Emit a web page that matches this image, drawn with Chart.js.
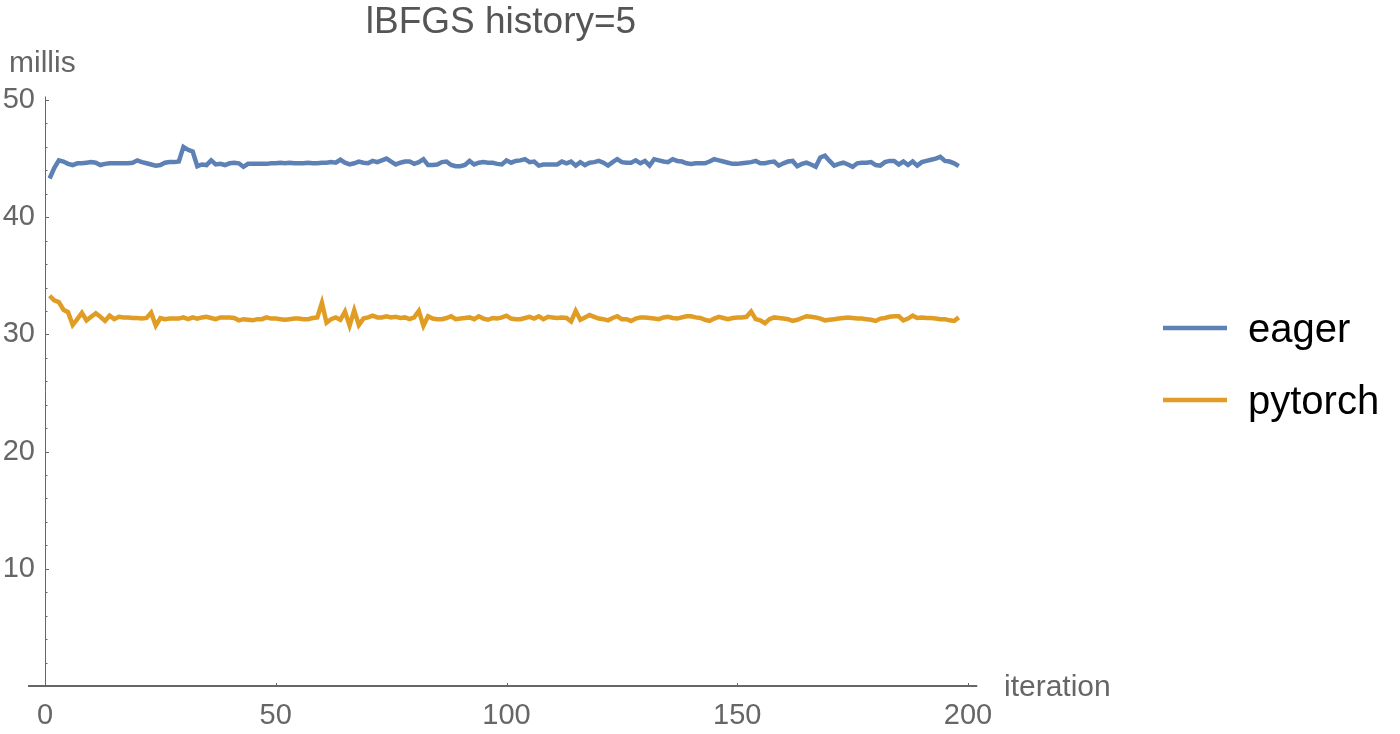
<!DOCTYPE html>
<html>
<head>
<meta charset="utf-8">
<title>lBFGS history=5</title>
<script src="https://cdn.jsdelivr.net/npm/chart.js@4.4.1/dist/chart.umd.min.js"></script>
<style>
  html, body { margin: 0; padding: 0; background: #fff; }
  #chart { display: block; }
</style>
</head>
<body>
<canvas id="chart" width="1400" height="734"></canvas>
<script>
const titleText = 'lBFGS history=5';
const seriesNames = ['eager', 'pytorch'];
const seriesColors = ['#5e81b5', '#e19c24'];
const xTicks = [0, 50, 100, 150, 200];
const yTicks = [10, 20, 30, 40, 50];

// milliseconds per iteration (iterations 1..198)
const eager = [
  43.3, 44.2, 44.85, 44.75, 44.55, 44.45, 44.6, 44.6, 44.65, 44.7,
  44.65, 44.45, 44.55, 44.6, 44.6, 44.6, 44.6, 44.6, 44.65, 44.85,
  44.7, 44.6, 44.5, 44.4, 44.45, 44.65, 44.7, 44.7, 44.75, 46.0,
  45.75, 45.6, 44.35, 44.5, 44.45, 44.85, 44.5, 44.55, 44.45, 44.6,
  44.65, 44.6, 44.3, 44.55, 44.55, 44.55, 44.55, 44.55, 44.6, 44.6,
  44.65, 44.6, 44.65, 44.6, 44.6, 44.6, 44.65, 44.6, 44.6, 44.65,
  44.65, 44.7, 44.65, 44.9, 44.65, 44.5, 44.6, 44.75, 44.65, 44.6,
  44.8, 44.7, 44.85, 45.0, 44.75, 44.5, 44.65, 44.75, 44.75, 44.55,
  44.7, 44.95, 44.45, 44.45, 44.5, 44.7, 44.75, 44.45, 44.35, 44.35,
  44.45, 44.8, 44.5, 44.65, 44.7, 44.65, 44.65, 44.55, 44.5, 44.85,
  44.65, 44.8, 44.85, 44.95, 44.7, 44.75, 44.4, 44.5, 44.5, 44.5,
  44.5, 44.75, 44.6, 44.75, 44.4, 44.7, 44.45, 44.65, 44.7, 44.8,
  44.65, 44.4, 44.7, 44.95, 44.7, 44.65, 44.65, 44.85, 44.6, 44.8,
  44.4, 44.95, 44.85, 44.75, 44.7, 44.95, 44.8, 44.75, 44.6, 44.55,
  44.6, 44.6, 44.6, 44.75, 44.95, 44.85, 44.75, 44.65, 44.55, 44.55,
  44.6, 44.65, 44.7, 44.8, 44.6, 44.6, 44.7, 44.75, 44.4, 44.6,
  44.75, 44.8, 44.35, 44.55, 44.65, 44.5, 44.3, 45.1, 45.25, 44.8,
  44.4, 44.55, 44.65, 44.5, 44.3, 44.6, 44.65, 44.65, 44.7, 44.45,
  44.4, 44.7, 44.8, 44.8, 44.5, 44.75, 44.45, 44.75, 44.4, 44.7,
  44.8, 44.9, 45.0, 45.15, 44.8, 44.75, 44.6, 44.35
];
const pytorch = [
  33.3, 32.9, 32.75, 32.1, 31.9, 30.8, 31.3, 31.85, 31.2, 31.5,
  31.8, 31.5, 31.15, 31.6, 31.3, 31.5, 31.45, 31.45, 31.4, 31.4,
  31.35, 31.4, 31.85, 30.75, 31.4, 31.3, 31.35, 31.35, 31.35, 31.45,
  31.3, 31.45, 31.35, 31.45, 31.5, 31.4, 31.3, 31.45, 31.45, 31.45,
  31.4, 31.2, 31.3, 31.25, 31.2, 31.3, 31.3, 31.45, 31.35, 31.35,
  31.3, 31.25, 31.3, 31.35, 31.35, 31.3, 31.3, 31.4, 31.45, 32.7,
  31.0, 31.3, 31.45, 31.25, 31.95, 30.75, 32.05, 30.8, 31.35, 31.45,
  31.6, 31.45, 31.45, 31.55, 31.45, 31.5, 31.4, 31.45, 31.3, 31.45,
  32.0, 30.75, 31.55, 31.35, 31.3, 31.3, 31.4, 31.55, 31.3, 31.35,
  31.4, 31.45, 31.3, 31.55, 31.35, 31.25, 31.4, 31.35, 31.45, 31.6,
  31.35, 31.3, 31.3, 31.4, 31.5, 31.35, 31.55, 31.3, 31.5, 31.45,
  31.4, 31.45, 31.4, 31.1, 32.0, 31.25, 31.45, 31.65, 31.5, 31.35,
  31.3, 31.2, 31.4, 31.55, 31.3, 31.3, 31.15, 31.35, 31.45, 31.45,
  31.4, 31.35, 31.3, 31.45, 31.5, 31.4, 31.35, 31.45, 31.55, 31.55,
  31.45, 31.4, 31.25, 31.15, 31.35, 31.5, 31.4, 31.3, 31.4, 31.45,
  31.45, 31.5, 31.95, 31.3, 31.2, 30.95, 31.3, 31.45, 31.4, 31.35,
  31.3, 31.15, 31.25, 31.4, 31.55, 31.5, 31.45, 31.35, 31.2, 31.25,
  31.3, 31.35, 31.4, 31.45, 31.4, 31.35, 31.35, 31.3, 31.25, 31.15,
  31.35, 31.4, 31.5, 31.55, 31.55, 31.2, 31.35, 31.6, 31.4, 31.45,
  31.4, 31.4, 31.35, 31.3, 31.3, 31.2, 31.15, 31.45
];

const iterations = [];
for (let i = 1; i <= eager.length; i++) iterations.push(i);

const FONT = '"Liberation Sans", Arial, sans-serif';
const AXIS_GREY = '#666666';

const toPoints = vals => vals.map((v, i) => ({ x: iterations[i], y: v }));

// axes, minor ticks, axis labels, title and legend in the Mathematica look
const decorations = {
  id: 'decorations',
  afterDraw(chart) {
    const ctx = chart.ctx;
    const xs = chart.scales.x;
    const ys = chart.scales.y;
    const x0 = xs.getPixelForValue(0);
    const y0 = ys.getPixelForValue(0);
    ctx.save();

    // y axis + ticks (inside)
    ctx.strokeStyle = AXIS_GREY;
    ctx.lineWidth = 1;
    ctx.beginPath();
    ctx.moveTo(x0 + 0.5, ys.getPixelForValue(50.3));
    ctx.lineTo(x0 + 0.5, y0);
    ctx.stroke();
    for (let v = 2; v <= 50; v += 2) {
      const py = Math.round(ys.getPixelForValue(v)) + 0.5;
      const len = v % 10 === 0 ? 4 : 2.5;
      ctx.beginPath();
      ctx.moveTo(x0, py);
      ctx.lineTo(x0 + len, py);
      ctx.stroke();
    }

    // x axis
    ctx.lineWidth = 2;
    ctx.beginPath();
    ctx.moveTo(x0 - 17, y0);
    ctx.lineTo(xs.getPixelForValue(202), y0);
    ctx.stroke();
    ctx.lineWidth = 1;
    xTicks.forEach(t => {
      const px = Math.round(xs.getPixelForValue(t)) + 0.5;
      ctx.beginPath();
      ctx.moveTo(px, y0);
      ctx.lineTo(px, y0 - 3);
      ctx.stroke();
    });

    // axis labels
    ctx.fillStyle = AXIS_GREY;
    ctx.font = '30px ' + FONT;
    ctx.textBaseline = 'middle';
    ctx.textAlign = 'left';
    ctx.fillText('millis', 9, 64);
    ctx.fillText('iteration', 1004, 688);

    // title
    ctx.font = '37px ' + FONT;
    ctx.fillStyle = '#555555';
    ctx.textAlign = 'center';
    ctx.fillText(titleText, 501, 23);

    // legend
    ctx.textAlign = 'left';
    ctx.textBaseline = 'alphabetic';
    ctx.font = '40px ' + FONT;
    const legendY = [328, 400];
    seriesNames.forEach((name, k) => {
      ctx.strokeStyle = seriesColors[k];
      ctx.lineWidth = 4.5;
      ctx.beginPath();
      ctx.moveTo(1163, legendY[k]);
      ctx.lineTo(1227, legendY[k]);
      ctx.stroke();
      ctx.fillStyle = '#000000';
      ctx.fillText(name, 1248, legendY[k] + 14);
    });
    ctx.restore();
  }
};

const ctx = document.getElementById('chart').getContext('2d');
new Chart(ctx, {
  type: 'line',
  data: {
    datasets: [
      {
        label: seriesNames[0],
        data: toPoints(eager),
        borderColor: seriesColors[0],
        borderWidth: 4.5,
        pointRadius: 0,
        fill: false,
        tension: 0
      },
      {
        label: seriesNames[1],
        data: toPoints(pytorch),
        borderColor: seriesColors[1],
        borderWidth: 4.5,
        pointRadius: 0,
        fill: false,
        tension: 0
      }
    ]
  },
  options: {
    responsive: false,
    animation: false,
    events: [],
    layout: { padding: { top: 100, right: 432, left: 0, bottom: 0 } },
    plugins: {
      legend: { display: false },
      title: { display: false },
      tooltip: { enabled: false }
    },
    scales: {
      x: {
        type: 'linear',
        min: 0,
        max: 200,
        afterFit: s => { s.height = 48; },
        afterBuildTicks: s => { s.ticks = xTicks.map(v => ({ value: v })); },
        grid: { display: false, drawTicks: false },
        border: { display: false },
        ticks: {
          color: AXIS_GREY,
          font: { family: FONT, size: 29 },
          padding: 13,
          maxRotation: 0,
          autoSkip: false
        }
      },
      y: {
        type: 'linear',
        min: 0,
        max: 50,
        afterFit: s => { s.width = 45; },
        afterBuildTicks: s => { s.ticks = yTicks.map(v => ({ value: v })); },
        grid: { display: false, drawTicks: false },
        border: { display: false },
        ticks: {
          color: AXIS_GREY,
          font: { family: FONT, size: 29 },
          padding: 10
        }
      }
    }
  },
  plugins: [decorations]
});
</script>
</body>
</html>
